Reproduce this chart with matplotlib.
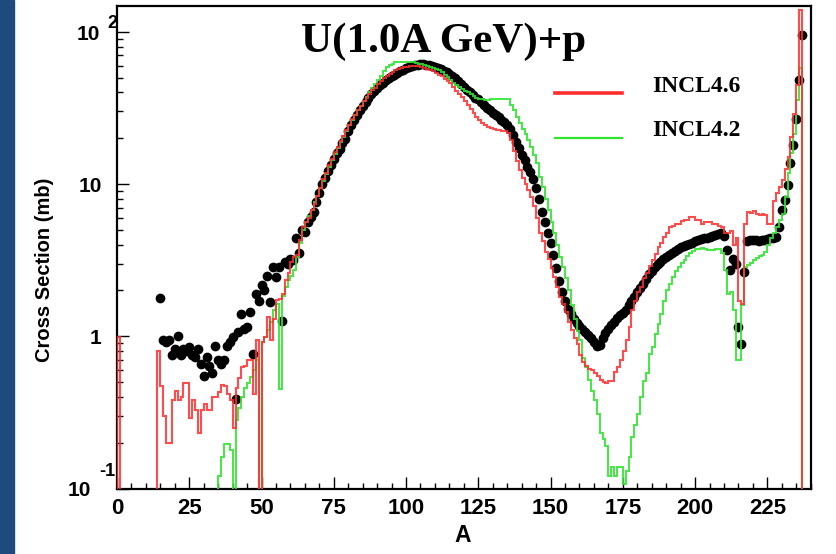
import numpy as np
import matplotlib
matplotlib.use("Agg")
from matplotlib import pyplot as plt
from matplotlib.lines import Line2D
from matplotlib.patches import Rectangle
from matplotlib.ticker import FixedLocator, FixedFormatter, LogLocator, MultipleLocator, NullFormatter

# measured isotopic production cross sections, one point per mass number A
a_exp_first = 15
sigma_exp = [
    1.79, 0.94, 0.92, 0.95, 0.75,
    0.83, 1.00, 0.75, 0.83, 0.80, 0.85, 0.75, 0.73, 0.83, 0.66,
    0.55, 0.73, 0.64, 0.57, 0.86, 0.70, 0.66, 0.70, 0.87, 0.92,
    0.99, 0.385, 1.07, 1.41, 1.12, 1.15, 1.45, 0.76, 1.91, 1.70,
    2.17, 2.00, 2.50, 1.68, 2.86, 2.46, 2.86, 1.27, 3.08, 3.00,
    3.20, 3.19, 4.40, 3.53, 5.00, 4.86, 5.60, 6.10, 6.60, 7.60,
    8.8, 10.0, 11.0, 12.2, 13.3, 14.6, 15.9, 17.0, 18.5, 19.8,
    22.5, 24.5, 26.5, 28.5, 30.5, 32.5, 34.8, 37.0, 39.0, 41.0,
    42.8, 44.5, 46.5, 48.0, 49.5, 51.0, 52.5, 54.0, 55.2, 56.5,
    57.7, 58.8, 59.8, 60.5, 61.0, 61.3, 61.2, 60.8, 60.2, 59.5,
    58.7, 57.8, 56.8, 55.5, 54.2, 53.0, 51.5, 49.5, 47.5, 45.5,
    43.5, 41.8, 40.0, 38.5, 37.0, 36.0, 34.5, 33.0, 31.8, 30.6,
    29.5, 28.5, 27.5, 26.5, 25.5, 24.5, 23.0, 21.0, 19.0, 17.2,
    15.5, 14.3, 13.0, 12.0, 10.8, 9.4, 8.0, 6.6, 5.6, 4.8,
    4.1, 3.4, 2.8, 2.3, 1.95, 1.70, 1.52, 1.40, 1.30, 1.23,
    1.17, 1.12, 1.07, 1.02, 0.98, 0.92, 0.86, 0.88, 0.98, 1.05,
    1.12, 1.18, 1.25, 1.32, 1.38, 1.43, 1.50, 1.60, 1.70, 1.82,
    1.95, 2.08, 2.22, 2.38, 2.55, 2.70, 2.85, 2.98, 3.10, 3.20,
    3.32, 3.42, 3.55, 3.65, 3.75, 3.85, 3.92, 4.00, 4.05, 4.12,
    4.20, 4.28, 4.35, 4.40, 4.45, 4.50, 4.55, 4.62, 4.70, 4.75,
    4.55, 3.68, 2.72, 3.20, 3.00, 1.15, 0.89, 2.65, 4.25, 4.30,
    4.30, 4.28, 4.25, 4.28, 4.30, 4.35, 4.40, 4.40, 4.50, 5.24,
    6.75, 7.85, 9.85, 13.7, 18.0, 26.6, 48.4, 95.3,
]

# INCL4.6 histogram, unit bins [A, A+1) starting at A = 0
incl46_first = 0
incl46 = [
    0.99, 0, 0, 0, 0, 0, 0, 0, 0, 0, 0, 0, 0, 0,
    0.80, 0.47, 0.30, 0.20, 0.20, 0.38,
    0.44, 0.38, 0.40, 0.49, 0.49, 0.29, 0.38, 0.33, 0.23, 0.33,
    0.36, 0.33, 0.33, 0.40, 0.40, 0.43, 0.48, 0.47, 0.42, 0.38,
    0.25, 0.46, 0.53, 0.63, 0.64, 0.70, 0.70, 0.42, 0.94, 0,
    0.92, 0.99, 1.34, 0.94, 1.30, 1.73, 1.76, 1.91, 2.33, 2.60,
    3.08, 3.30, 3.41, 4.28, 5.24, 5.60, 5.95, 6.75, 7.40, 8.30,
    9.4, 10.8, 11.8, 13.4, 14.6, 16.2, 17.5, 19.3, 20.8, 22.8,
    24.6, 26.9, 28.5, 30.8, 32.6, 35.0, 37.0, 39.0, 41.5, 43.0,
    45.5, 47.5, 50.0, 51.5, 53.0, 54.8, 56.0, 57.0, 58.0, 58.8,
    59.0, 59.5, 59.8, 60.0, 59.5, 58.8, 57.8, 57.0, 56.0, 55.0,
    53.8, 52.5, 51.0, 49.0, 47.5, 46.0, 43.5, 41.0, 39.0, 37.5,
    35.0, 33.0, 31.0, 29.2, 27.5, 26.2, 25.2, 24.5, 23.8, 23.3,
    23.0, 22.8, 22.6, 22.4, 22.2, 21.8, 19.5, 16.5, 14.2, 12.4,
    11.0, 10.0, 9.1, 8.2, 7.2, 6.0, 4.8, 4.2, 3.6, 3.2,
    2.8, 2.45, 2.1, 1.80, 1.62, 1.45, 1.25, 1.10, 0.98, 0.89,
    0.75, 0.68, 0.64, 0.61, 0.60, 0.57, 0.55, 0.52, 0.50, 0.49,
    0.51, 0.51, 0.58, 0.63, 0.70, 0.80, 0.94, 1.15, 1.48, 1.70,
    1.95, 2.10, 2.40, 2.60, 2.90, 3.16, 3.45, 3.87, 4.10, 4.50,
    4.80, 5.24, 5.30, 5.50, 5.50, 5.70, 5.80, 5.80, 6.10, 6.10,
    5.80, 5.80, 5.50, 5.60, 5.60, 5.60, 5.50, 5.50, 5.30, 5.24,
    4.74, 4.74, 4.90, 4.00, 4.40, 1.70, 1.64, 5.50, 6.60, 6.50,
    6.70, 6.40, 6.30, 6.40, 6.30, 5.50, 5.50, 7.80, 8.70, 9.60,
    10.6, 12.5, 15.1, 20.5, 29.0, 45.0, 139.0,
]

# INCL4.2 histogram, unit bins [A, A+1) starting at A = 35
incl42_first = 35
incl42 = [
    0.12, 0.16, 0.197, 0.197, 0.18,
    0, 0.28, 0.34, 0.40, 0.46, 0.49, 0.54, 0.60, 0.70, 0,
    0.92, 0.99, 1.10, 1.24, 1.50, 1.64, 0.45, 1.85, 2.10, 2.33,
    2.50, 2.72, 3.30, 4.10, 5.00, 5.60, 6.20, 6.80, 7.60, 8.40,
    9.4, 10.5, 11.6, 13.0, 14.3, 15.8, 17.2, 18.8, 20.5, 22.3,
    24.3, 26.4, 28.5, 30.5, 32.8, 35.0, 37.5, 40.0, 42.5, 45.5,
    48.5, 51.5, 55.0, 58.5, 60.5, 62.0, 63.0, 63.5, 63.7, 63.8,
    63.8, 63.5, 63.0, 62.5, 62.0, 61.5, 60.8, 60.0, 59.2, 58.2,
    57.0, 56.0, 54.5, 52.5, 50.5, 48.5, 46.5, 45.0, 43.5, 42.3,
    41.0, 40.0, 39.0, 38.0, 37.0, 36.3, 36.0, 35.9, 35.9, 36.0,
    36.0, 36.0, 36.0, 36.0, 36.0, 36.0, 33.0, 30.6, 27.5, 25.1,
    23.0, 21.5, 19.5, 17.6, 15.5, 13.7, 11.1, 9.6, 8.0, 6.75,
    5.6, 4.74, 4.0, 3.3, 2.86, 2.4, 2.0, 1.6, 1.3, 1.08,
    0.94, 0.72, 0.63, 0.52, 0.44, 0.38, 0.31, 0.23, 0.21, 0.19,
    0.12, 0.138, 0.12, 0.138, 0.138, 0.107, 0.13, 0.16, 0.218, 0.26,
    0.31, 0.40, 0.51, 0.57, 0.77, 0.85, 1.04, 1.20, 1.41, 1.70,
    2.0, 2.2, 2.45, 2.7, 2.86, 3.05, 3.16, 3.35, 3.5, 3.65,
    3.77, 3.77, 3.80, 3.75, 3.70, 3.70, 3.68, 3.75, 3.77, 3.50,
    2.72, 1.91, 1.96, 1.48, 0.70, 0.70, 1.60, 2.86, 2.95, 3.05,
    3.16, 3.25, 3.35, 3.41, 3.60, 3.97, 4.40, 4.74, 5.24, 5.80,
    6.4, 8.2, 11.8, 15.9, 21.5, 35.6, 57.6,
]

x_ticks = [0, 25, 50, 75, 100, 125, 150, 175, 200, 225]
y_ticks = [0.1, 1, 10, 100]
y_tick_labels = ["", "1", "10", ""]

RED = "#ff2e2e"
GREEN = "#2ee62e"
SANS = "Liberation Sans"
SERIF = "Liberation Serif"
W, H = 837, 554


def fx(px):
    return px / W


def fy(py):
    return 1 - py / H


fig = plt.figure(figsize=(W / 100, H / 100), dpi=100)
fig.patches.append(Rectangle((0, 0), fx(14), 1, transform=fig.transFigure,
                             color="#1f4a7e", zorder=0))

ax = fig.add_axes([fx(117), fy(488.5), fx(810.7 - 117), (488.5 - 6) / H])
ax.set_yscale("log")
ax.set_xlim(0, 240)
ax.set_ylim(0.1, 148)

a_exp = np.arange(a_exp_first, a_exp_first + len(sigma_exp))
ax.plot(a_exp, sigma_exp, "o", color="black", ms=6, mec="black", zorder=2)

edges42 = np.arange(incl42_first, incl42_first + len(incl42) + 1)
ax.stairs(incl42, edges42, color=GREEN, lw=1.4, alpha=0.9, zorder=3)
edges46 = np.arange(incl46_first, incl46_first + len(incl46) + 1)
ax.stairs(incl46, edges46, color=RED, lw=1.5, alpha=0.85, zorder=4)

for s in ax.spines.values():
    s.set_linewidth(1.6)
ax.tick_params(which="both", direction="in", top=False, right=False, width=1.0)
ax.tick_params(which="major", length=8.5)
ax.tick_params(which="minor", length=4)
ax.tick_params(axis="x", pad=7)
ax.tick_params(axis="y", pad=11)

ax.xaxis.set_major_locator(FixedLocator(x_ticks))
ax.xaxis.set_minor_locator(MultipleLocator(5))
ax.yaxis.set_major_locator(FixedLocator(y_ticks))
ax.yaxis.set_major_formatter(FixedFormatter(y_tick_labels))
ax.yaxis.set_minor_locator(LogLocator(base=10, subs=np.arange(2, 10)))
ax.yaxis.set_minor_formatter(NullFormatter())
for lab in ax.get_xticklabels():
    lab.set_fontfamily(SANS)
    lab.set_fontweight("bold")
    lab.set_fontsize(16)
for lab in ax.get_yticklabels():
    lab.set_fontfamily(SANS)
    lab.set_fontweight("bold")
    lab.set_fontsize(15)

# power-of-ten labels drawn by hand, exponent raised like the ROOT style
tick_font = dict(family=SANS, weight="bold")
fig.text(fx(100.5), fy(35), "10", ha="right", va="center", size=15, **tick_font)
fig.text(fx(112), fy(23), "2", ha="center", va="center", size=13, **tick_font)
fig.text(fx(91), fy(490), "10", ha="right", va="center", size=15, **tick_font)
fig.text(fx(107), fy(472), "-1", ha="center", va="center", size=13, **tick_font)

fig.text(fx(45), fy(270), "Cross Section (mb)", rotation=90, ha="center",
         va="center", size=14.5, **tick_font)
fig.text(fx(463), fy(535), "A", ha="center", va="center", size=16.5, **tick_font)

fig.text(fx(444), fy(42), "U(1.0A GeV)+p", ha="center", va="center",
         family=SERIF, weight="bold", size=31)

# legend
fig.add_artist(Line2D([fx(555), fx(622)], [fy(93), fy(93)], color=RED, lw=2.6))
fig.add_artist(Line2D([fx(555), fx(622)], [fy(138), fy(138)], color=GREEN, lw=1.6))
fig.text(fx(652), fy(86), "INCL4.6", ha="left", va="center",
         family=SERIF, weight="bold", size=17)
fig.text(fx(652), fy(131), "INCL4.2", ha="left", va="center",
         family=SERIF, weight="bold", size=17)

fig.savefig("out.png", dpi=100)
plt.close(fig)
